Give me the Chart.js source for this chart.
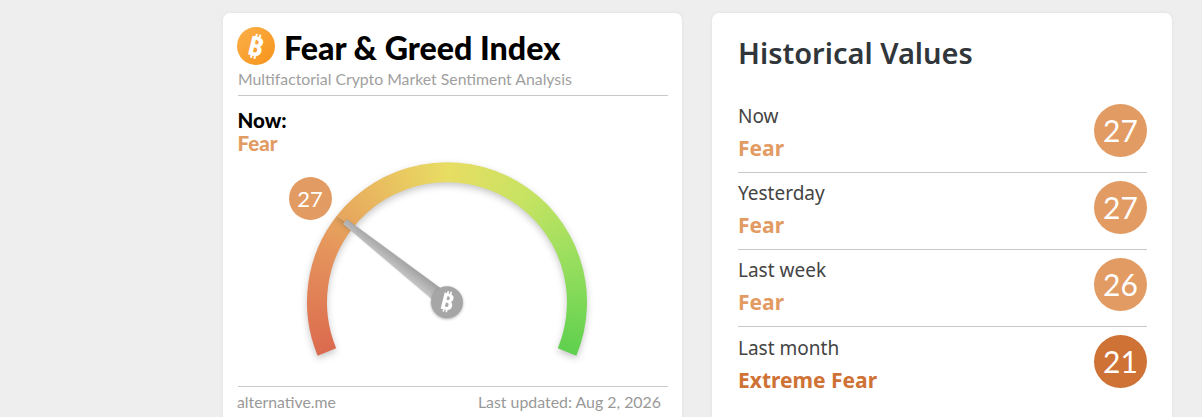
<!DOCTYPE html>
<html>
<head>
<meta charset="utf-8">
<title>Fear & Greed Index</title>
<script src="https://cdn.jsdelivr.net/npm/chart.js@4"></script>
<style>
html, body { margin: 0; padding: 0; width: 1202px; height: 417px; overflow: hidden; background: #eeeeee; }
.card { position: absolute; top: 13px; height: 420px; background: #fff; border-radius: 7px; box-shadow: 0 0 4px rgba(0,0,0,.06); }
#left { left: 223px; width: 459px; font-family: Lato, sans-serif; }
#right { left: 712px; width: 460px; font-family: "Noto Sans", sans-serif; }
.abs { position: absolute; white-space: nowrap; line-height: 1; }
.rule { position: absolute; height: 1px; background: #c9c9c9; }
#coin { left: 14px; top: 14px; width: 38px; height: 38px; border-radius: 50%; background: linear-gradient(135deg, #fbb04a, #f7931a); color: #fff; font: bold 27px/38px "Noto Sans", sans-serif; text-align: center; }
#coin span { display: inline-block; transform: rotate(14deg); }
#title { left: 61px; top: 19px; font-size: 32.2px; font-weight: 900; color: #000; }
#sub { left: 15px; top: 58px; font-size: 15.8px; color: #a0a0a0; }
#nowLabel { left: 14.5px; top: 97px; font-size: 20.5px; font-weight: 900; color: #000; }
#nowClass { left: 14.5px; top: 120px; font-size: 20.5px; font-weight: 900; color: #e29b62; }
#site { left: 14px; top: 381px; font-size: 15.8px; color: #999; }
#updated { right: 21px; top: 381px; font-size: 15.9px; color: #999; }
#gaugeWrap { position: absolute; left: 277px; top: 148px; width: 340px; height: 222px; }
#badge { position: absolute; width: 43px; height: 43px; border-radius: 50%; background: #e29b62; color: #fff; font: 22px/43px Lato, sans-serif; text-align: center; }
#histTitle { left: 26px; top: 25px; font-size: 29px; font-weight: 600; color: #31363a; }
.rowLabel { left: 26px; font-size: 19px; color: #444; }
.rowClass { left: 26px; font-size: 21px; font-weight: 700; }
.rowBall { position: absolute; left: 382px; width: 53px; height: 53px; border-radius: 50%; color: #fff; font-family: Lato, sans-serif; font-size: 30px; line-height: 53px; text-align: center; }
</style>
</head>
<body>
<div class="card" id="left">
  <div class="abs" id="coin"><span>₿</span></div>
  <div class="abs" id="title">Fear &amp; Greed Index</div>
  <div class="abs" id="sub">Multifactorial Crypto Market Sentiment Analysis</div>
  <div class="rule" style="left:15px;top:82px;width:430px"></div>
  <div class="abs" id="nowLabel">Now:</div>
  <div class="abs" id="nowClass"></div>
  <div class="rule" style="left:15px;top:373px;width:430px"></div>
  <div class="abs" id="site">alternative.me</div>
  <div class="abs" id="updated">Last updated: Aug 2, 2026</div>
</div>
<div class="card" id="right">
  <div class="abs" id="histTitle">Historical Values</div>
</div>
<div id="gaugeWrap"><canvas id="gauge" width="340" height="222"></canvas></div>
<div id="badge"></div>

<script>
const periods = ['Now', 'Yesterday', 'Last week', 'Last month'];
const periodValues = [27, 27, 26, 21];
const periodClasses = ['Fear', 'Fear', 'Fear', 'Extreme Fear'];
const classColors = { 'Fear': '#e29b62', 'Extreme Fear': '#cf7236' };

const gaugeMax = 100;
const gaugeColors = ['#db6a4e', '#e5935c', '#e9c160', '#e8dd63', '#c8e362', '#98de5e', '#5fd04e'];
const gaugeStops = [0, 0.2, 0.38, 0.5, 0.66, 0.82, 1];

const nowValue = periodValues[0];
document.getElementById('nowClass').textContent = periodClasses[0];

// historical rows, 77px apart
const right = document.getElementById('right');
periods.forEach(function (p, i) {
    const top = 77 * i;
    const label = document.createElement('div');
    label.className = 'abs rowLabel';
    label.style.top = (94 + top + (i === 3 ? 1 : 0)) + 'px';
    label.textContent = p;
    right.appendChild(label);

    const cls = document.createElement('div');
    cls.className = 'abs rowClass';
    cls.style.top = (125 + top + (i === 3 ? 1 : 0)) + 'px';
    cls.style.color = classColors[periodClasses[i]];
    cls.textContent = periodClasses[i];
    right.appendChild(cls);

    const ball = document.createElement('div');
    ball.className = 'rowBall';
    ball.style.top = (91 + top) + 'px';
    ball.style.background = classColors[periodClasses[i]];
    ball.textContent = periodValues[i];
    right.appendChild(ball);

    if (i < periods.length - 1) {
        const rule = document.createElement('div');
        rule.className = 'rule';
        rule.style.cssText = 'left:26px;width:409px;top:' + (159 + top) + 'px';
        right.appendChild(rule);
    }
});

function arcGradient(context) {
    const chart = context.chart;
    const c = chart.getDatasetMeta(0).controller;
    // the controller asks for options once before it has its offsets
    if (!chart.chartArea || !isFinite(c.offsetX) || !isFinite(c.offsetY)) return gaugeColors[0];
    const x = (chart.chartArea.left + chart.chartArea.right) / 2 + c.offsetX;
    const y = (chart.chartArea.top + chart.chartArea.bottom) / 2 + c.offsetY;
    const start = 157.5 * Math.PI / 180;
    const g = chart.ctx.createConicGradient(start, x, y);
    gaugeStops.forEach(function (s, i) {
        g.addColorStop(s * 0.625, gaugeColors[i]);
    });
    g.addColorStop(0.626, gaugeColors[0]);
    return g;
}

// soft shadow under the ring
const ringShadow = {
    id: 'ringShadow',
    beforeDatasetsDraw(chart) {
        const ctx = chart.ctx;
        ctx.save();
        ctx.shadowColor = 'rgba(0,0,0,.22)';
        ctx.shadowBlur = 7;
        ctx.shadowOffsetY = 3;
    },
    afterDatasetsDraw(chart) {
        chart.ctx.restore();
    }
};

// needle and hub, tip follows the end of the value arc
const needle = {
    id: 'needle',
    afterDraw(chart) {
        const ctx = chart.ctx;
        const arc = chart.getDatasetMeta(0).data[0];
        const a = arc.endAngle;
        const x = arc.x, y = arc.y;
        ctx.save();
        ctx.translate(x, y);
        ctx.rotate(a);
        ctx.shadowColor = 'rgba(0,0,0,.15)';
        ctx.shadowBlur = 2;
        const g = ctx.createLinearGradient(0, -6, 0, 6);
        g.addColorStop(0, '#c4c4c4');
        g.addColorStop(1, '#a2a2a2');
        ctx.fillStyle = g;
        ctx.beginPath();
        ctx.moveTo(0, -7.5);
        ctx.lineTo(arc.outerRadius - 10, -3);
        ctx.lineTo(arc.outerRadius - 10, 3);
        ctx.lineTo(0, 7.5);
        ctx.closePath();
        ctx.fill();
        ctx.restore();

        ctx.save();
        ctx.shadowColor = 'rgba(0,0,0,.3)';
        ctx.shadowBlur = 3;
        ctx.shadowOffsetY = 1;
        ctx.fillStyle = '#a6a6a6';
        ctx.beginPath();
        ctx.arc(x, y, 16, 0, Math.PI * 2);
        ctx.fill();
        ctx.restore();

        ctx.save();
        ctx.translate(x, y);
        ctx.rotate(14 * Math.PI / 180);
        ctx.fillStyle = '#fff';
        ctx.font = 'bold 23px "Noto Sans", sans-serif';
        ctx.textAlign = 'center';
        ctx.textBaseline = 'middle';
        ctx.fillText('₿', 0, 1);
        ctx.restore();

        // value badge sits just outside the ring, 172px along the value angle
        const rect = chart.canvas.getBoundingClientRect();
        const badge = document.getElementById('badge');
        const bx = rect.left + x + Math.cos(a - 1 * Math.PI / 180) * 172;
        const by = rect.top + y + Math.sin(a - 1 * Math.PI / 180) * 172;
        badge.style.left = (bx - 21.5) + 'px';
        badge.style.top = (by - 21.5) + 'px';
        badge.textContent = nowValue;
    }
};

new Chart(document.getElementById('gauge'), {
    type: 'doughnut',
    data: {
        labels: ['Value', 'Rest'],
        datasets: [{
            data: [nowValue, gaugeMax - nowValue],
            backgroundColor: arcGradient,
            borderWidth: 0,
            hoverOffset: 0
        }]
    },
    options: {
        responsive: false,
        animation: false,
        rotation: -112.5,
        circumference: 225,
        radius: 140,
        cutout: '85.7%',
        layout: { padding: 0 },
        plugins: { legend: { display: false }, tooltip: { enabled: false } }
    },
    plugins: [ringShadow, needle]
});
</script>
</body>
</html>
